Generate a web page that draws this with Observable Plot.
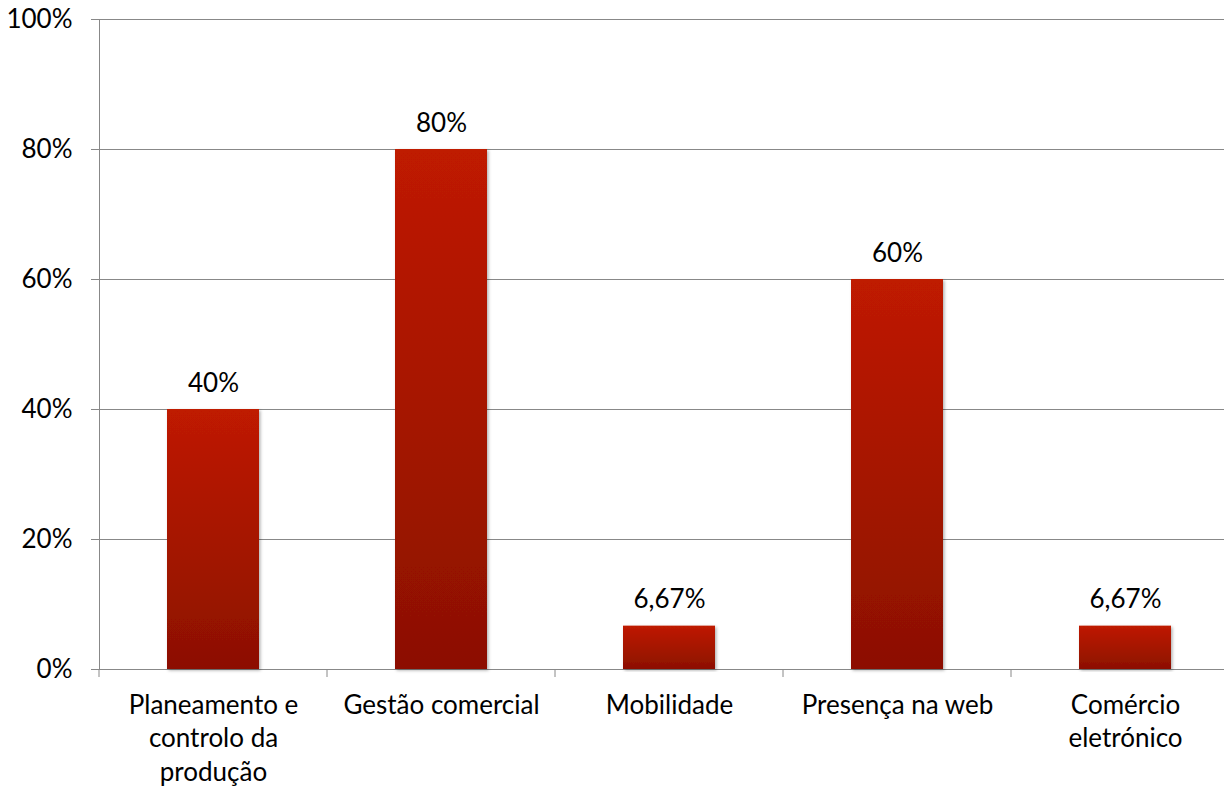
<!DOCTYPE html>
<html><head><meta charset="utf-8">
<script src="https://cdn.jsdelivr.net/npm/d3@7"></script>
<script src="https://cdn.jsdelivr.net/npm/@observablehq/plot@0.6"></script>
<style>body{margin:0;overflow:hidden;background:#fff}</style>
</head><body><div id="chart"></div>
<script>
const categories = ["Planeamento e controlo da produção","Gestão comercial","Mobilidade","Presença na web","Comércio eletrónico"];
const tickLabels = ["Planeamento e\ncontrolo da\nprodução","Gestão comercial","Mobilidade","Presença na web","Comércio\neletrónico"];
const values = [0.40, 0.80, 0.0667, 0.60, 0.0667];
const valueLabels = ["40%","80%","6,67%","60%","6,67%"];
const yTicks = [0, 0.2, 0.4, 0.6, 0.8, 1];

const data = categories.map((c, i) => ({category: c, value: values[i], label: valueLabels[i]}));
const gray = "#888888";
const FS = 26;

const defsMark = () => {
  const s = d3.create("svg:g");
  const defs = s.append("defs");
  const g = defs.append("linearGradient").attr("id", "barGrad").attr("x1", 0).attr("y1", 0).attr("x2", 0).attr("y2", 1);
  g.append("stop").attr("offset", "0%").attr("stop-color", "#bf1a06");
  g.append("stop").attr("offset", "100%").attr("stop-color", "#8c1002");
  const f = defs.append("filter").attr("id", "shadow").attr("x", "-20%").attr("y", "-5%").attr("width", "140%").attr("height", "110%");
  f.append("feDropShadow").attr("dx", 1.5).attr("dy", 1.5).attr("stdDeviation", 1.5).attr("flood-color", "#000").attr("flood-opacity", 0.3);
  return s.node();
};

// band boundary ticks along the bottom axis
const bandTicks = (index, scales, values, dim) => {
  const x = scales.x;
  const step = x.step ? x.step() : (dim.width - dim.marginLeft - dim.marginRight) / categories.length;
  const bw = x.bandwidth();
  const y0 = scales.y(0);
  const g = d3.create("svg:g").attr("stroke", gray).attr("stroke-width", 1);
  const edges = categories.map(c => x(c) + bw / 2 - step / 2);
  edges.push(x(categories[categories.length - 1]) + bw / 2 + step / 2);
  for (const e of edges) g.append("line").attr("x1", e).attr("x2", e).attr("y1", y0).attr("y2", y0 + 8);
  return g.node();
};

const chart = Plot.plot({
  width: 1224, height: 787,
  marginLeft: 99, marginRight: -15, marginTop: 19, marginBottom: 118,
  style: {fontFamily: "Lato, sans-serif", fontSize: FS + "px", color: "#000", background: "#fff", overflow: "visible"},
  x: {domain: categories, paddingInner: 0.596, paddingOuter: 0.298, label: null},
  y: {domain: [0, 1], label: null},
  marks: [
    defsMark,
    Plot.gridY(yTicks, {stroke: gray, strokeOpacity: 1, strokeWidth: 1}),
    Plot.axisY(yTicks, {tickFormat: d3.format(".0%"), tickSize: 8, tickPadding: 19, stroke: gray, strokeOpacity: 1, fontSize: FS, label: null}),
    Plot.frame({anchor: "left", stroke: gray, strokeOpacity: 1}),
    bandTicks,
    Plot.axisX({tickSize: 0, tickPadding: 20, tickFormat: (d) => tickLabels[categories.indexOf(d)], lineHeight: 1.3, fontSize: FS, label: null}),
    Plot.barY(data, {x: "category", y: "value", fill: "url(#barGrad)"}),
    Plot.text(data, {x: "category", y: "value", text: "label", dy: -26, fontSize: FS, fill: "#000"})
  ]
});
d3.select(chart).selectAll("rect[fill='url(#barGrad)'], g[fill='url(#barGrad)'] rect").attr("filter", "url(#shadow)");
document.getElementById("chart").appendChild(chart);
</script>
</body></html>
